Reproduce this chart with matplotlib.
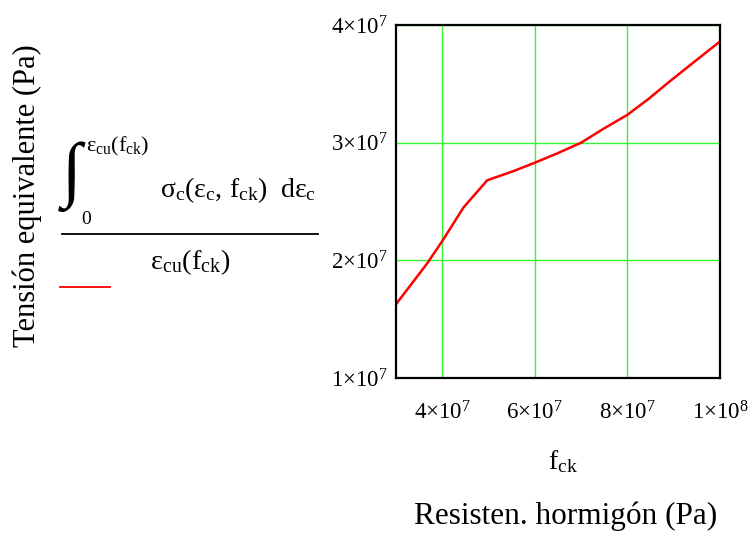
import matplotlib
matplotlib.use("Agg")
import matplotlib.pyplot as plt

plt.rcParams["font.family"] = ["Liberation Serif", "DejaVu Serif"]
plt.rcParams["mathtext.fontset"] = "custom"
plt.rcParams["mathtext.rm"] = "Liberation Serif"
plt.rcParams["mathtext.it"] = "Liberation Serif:italic"

# values
fck = [3.0e7, 3.67e7, 4.0e7, 4.46e7, 4.97e7, 5.55e7, 6.0e7, 6.49e7,
       7.0e7, 7.47e7, 8.0e7, 8.45e7, 8.88e7, 9.39e7, 1.0e8]
tension = [1.627e7, 1.972e7, 2.164e7, 2.45e7, 2.68e7, 2.76e7, 2.83e7, 2.91e7,
           3.0e7, 3.115e7, 3.237e7, 3.37e7, 3.51e7, 3.67e7, 3.86e7]

xticks = [4e7, 6e7, 8e7, 1e8]
xlabels = [r"$\mathrm{4{\times}10^{7}}$", r"$\mathrm{6{\times}10^{7}}$",
           r"$\mathrm{8{\times}10^{7}}$", r"$\mathrm{1{\times}10^{8}}$"]
yticks = [1e7, 2e7, 3e7, 4e7]
ylabels = [r"$\mathrm{1{\times}10^{7}}$", r"$\mathrm{2{\times}10^{7}}$",
           r"$\mathrm{3{\times}10^{7}}$", r"$\mathrm{4{\times}10^{7}}$"]

fig = plt.figure(figsize=(7.55, 5.33), dpi=100)
ax = fig.add_axes([396 / 755, 1 - 378 / 533, 324 / 755, 353 / 533])

ax.plot(fck, tension, color="#ff0000", lw=1.8)
ax.set_xlim(3e7, 1e8)
ax.set_ylim(1e7, 4e7)
ax.set_xticks(xticks)
ax.set_xticklabels(xlabels, fontsize=16.5)
ax.set_yticks(yticks)
ax.set_yticklabels(ylabels, fontsize=16.5)
ax.tick_params(length=0, pad=17)
ax.tick_params(axis="y", pad=6)
ax.grid(True, color="#33f533", lw=1)
for s in ax.spines.values():
    s.set_linewidth(1.6)

# axis titles
fig.text(563 / 755, 1 - 462 / 533, r"$\mathrm{f_{ck}}$", fontsize=20,
         ha="center", va="center")
fig.text(566 / 755, 1 - 516 / 533, "Resisten. hormigón (Pa)", fontsize=22.5,
         ha="center", va="center")
fig.text(27 / 755, 1 - 196 / 533, "Tensión equivalente (Pa)", fontsize=22,
         rotation=90, ha="center", va="center")

# formula on the y side
fig.text(62 / 755, 1 - 177 / 533, "\u222b", fontsize=52, ha="left", va="center")
fig.text(86 / 755, 1 - 146 / 533, r"$\mathrm{ε_{cu}(f_{ck})}$", fontsize=16,
         ha="left", va="center")
fig.text(81 / 755, 1 - 219 / 533, "0", fontsize=14, ha="left", va="center")
fig.text(160 / 755, 1 - 190 / 533, r"$\mathrm{σ_{c}(ε_{c},\, f_{ck})\ \ dε_{c}}$",
         fontsize=20, ha="left", va="center")
fig.add_artist(plt.Line2D([62 / 755, 318 / 755], [1 - 234 / 533, 1 - 234 / 533],
                          color="black", lw=1.3))
fig.text(190 / 755, 1 - 262 / 533, r"$\mathrm{ε_{cu}(f_{ck})}$", fontsize=20.5,
         ha="center", va="center")
fig.add_artist(plt.Line2D([60 / 755, 110 / 755], [1 - 287 / 533, 1 - 287 / 533],
                          color="#ff0000", lw=1.3))

fig.savefig("out.png", dpi=100)
